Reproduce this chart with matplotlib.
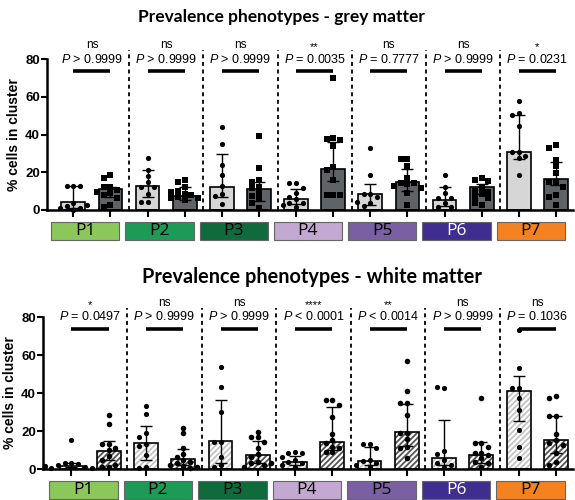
import numpy as np
import matplotlib
matplotlib.use("Agg")
import matplotlib.pyplot as plt
from matplotlib.patches import Rectangle

plt.rcParams['font.family'] = ['Liberation Sans', 'DejaVu Sans']
plt.rcParams['mathtext.fontset'] = 'custom'
plt.rcParams['mathtext.it'] = 'Liberation Sans:italic'
plt.rcParams['mathtext.rm'] = 'Liberation Sans'
plt.rcParams['hatch.linewidth'] = 1.3

# fenotyypit ja laatikoiden värit
phenotypes = ["P1", "P2", "P3", "P4", "P5", "P6", "P7"]
box_colors = ["#8bc75a", "#1d9a55", "#0f6b3c", "#c3a8d1", "#7b5fa3", "#3f2d8f", "#f58220"]
box_text_colors = ["black", "black", "black", "black", "black", "white", "black"]

# harmaa aine: mediaani, kvartiilit (ala, yla) ja pisteet
grey_light_med = [4.4, 12.9, 12.4, 5.7, 8.5, 5.1, 30.9]
grey_light_lo = [1.0, 7.0, 7.0, 3.0, 2.5, 2.0, 27.0]
grey_light_hi = [12.9, 21.2, 29.5, 11.1, 13.6, 12.4, 50.2]
grey_dark_med = [11.0, 7.4, 11.0, 21.6, 14.7, 12.4, 16.3]
grey_dark_lo = [7.0, 5.5, 4.8, 15.5, 10.0, 8.5, 13.3]
grey_dark_hi = [12.4, 12.4, 15.0, 35.9, 21.7, 13.6, 25.6]
grey_light_pts = [
    [12.9, 12.9, 12.9, 3.5, 2.3, 0.9, 0.9, 0.0, 2.6],
    [27.4, 21.2, 18.0, 15.0, 12.4, 12.4, 8.5, 4.4, 4.4],
    [43.8, 35.0, 23.9, 18.6, 12.9, 8.3, 7.4, 3.2],
    [14.1, 14.1, 11.5, 8.8, 7.1, 5.7, 3.5, 3.9, 1.8, 2.7],
    [32.7, 18.6, 8.5, 8.5, 7.1, 3.5, 2.3, 4.4],
    [18.6, 12.4, 8.8, 6.2, 6.2, 3.5, 1.8, 1.8],
    [57.8, 51.6, 50.5, 44.5, 30.9, 30.9, 28.6, 27.4, 18.6],
]
grey_dark_pts = [
    [18.6, 16.8, 12.4, 12.4, 10.6, 8.8, 8.0, 6.2, 2.7, 1.8, 9.7],
    [15.9, 15.0, 12.4, 10.2, 8.5, 8.0, 7.1, 6.2, 5.3, 6.2, 9.7],
    [39.2, 22.1, 15.9, 15.0, 12.4, 11.5, 9.2, 5.7, 0.9, 7.4, 3.5],
    [70.1, 38.0, 37.5, 37.1, 33.9, 23.0, 21.2, 15.9, 8.0, 8.0, 8.0],
    [26.9, 26.9, 23.3, 16.8, 14.1, 14.1, 13.8, 12.9, 11.5, 8.8, 2.7],
    [16.8, 15.9, 15.4, 11.5, 10.2, 9.7, 8.3, 7.1, 6.2, 2.7, 3.5],
    [34.5, 32.7, 26.5, 23.3, 19.4, 15.0, 15.0, 12.4, 8.0, 7.1, 2.7],
]
grey_stars = ["ns", "ns", "ns", "**", "ns", "ns", "*"]
grey_p = ["> 0.9999", "> 0.9999", "> 0.9999", "= 0.0035", "= 0.7777", "> 0.9999", "= 0.0231"]

# valkea aine
white_light_med = [1.8, 13.5, 14.8, 3.9, 4.2, 6.0, 40.8]
white_light_lo = [1.0, 4.7, 3.0, 2.0, 2.0, 2.0, 25.3]
white_light_hi = [3.3, 22.8, 36.4, 6.9, 11.8, 25.8, 49.0]
white_dark_med = [9.7, 5.1, 7.4, 14.4, 19.7, 7.4, 15.3]
white_dark_lo = [4.7, 2.0, 3.3, 10.0, 12.0, 3.0, 8.3]
white_dark_hi = [14.8, 10.5, 14.8, 32.5, 34.3, 14.4, 27.9]
white_light_pts = [
    [15.3, 3.3, 3.3, 2.6, 2.1, 1.2, 0.7, 0.4, 1.6],
    [32.9, 28.8, 18.8, 17.0, 13.0, 12.3, 7.4, 1.2, 0.7],
    [53.6, 43.1, 29.9, 14.4, 14.4, 6.5, 2.1, 1.2],
    [9.1, 8.3, 8.3, 6.5, 4.7, 3.9, 3.0, 2.1, 1.2],
    [13.2, 13.2, 10.9, 4.7, 4.2, 3.3, 2.1, 1.2],
    [42.5, 43.4, 9.7, 7.9, 4.7, 3.0, 2.1, 1.2],
    [72.9, 53.1, 42.5, 42.5, 37.3, 31.1, 20.6, 11.8, 5.6],
]
white_dark_pts = [
    [28.5, 23.7, 13.0, 13.0, 10.9, 10.0, 7.0, 4.7, 1.2, 1.2, 2.1],
    [21.8, 18.8, 10.9, 7.9, 6.5, 4.7, 3.9, 3.3, 2.1, 1.6, 0.7, 1.2],
    [19.7, 16.7, 16.7, 14.4, 10.9, 7.7, 6.5, 3.9, 3.0, 2.1, 1.2, 3.3],
    [36.4, 36.4, 33.7, 27.6, 18.5, 15.3, 13.5, 11.8, 9.1, 8.8, 10.9],
    [56.9, 40.8, 34.6, 34.6, 28.5, 18.8, 18.8, 15.6, 11.8, 10.9, 5.6],
    [37.3, 13.5, 13.5, 11.8, 8.6, 8.3, 7.4, 5.6, 3.9, 3.0, 1.2],
    [38.5, 37.3, 27.9, 27.9, 18.5, 15.3, 13.5, 12.7, 8.3, 3.9, 2.1],
]
white_stars = ["*", "ns", "ns", "****", "**", "ns", "ns"]
white_p = ["= 0.0497", "> 0.9999", "> 0.9999", "< 0.0001", "< 0.0014", "> 0.9999", "= 0.1036"]

OFFSET = 0.25
BAR_W = 0.32


def swarm(values, px_per_unit, step=0.09, px_per_x=74.2, min_dist=5.6):
    # yksinkertainen parvi-asettelu, ettei pisteet mene paallekkain
    placed = []
    offs = []
    cands = [0, -1, 1, -2, 2, -3, 3, -4, 4]
    for v in values:
        for c in cands:
            dx = c * step
            ok = True
            for (px, pv) in placed:
                if np.hypot((dx - px) * px_per_x, (v - pv) * px_per_unit) < min_dist:
                    ok = False
                    break
            if ok:
                break
        placed.append((dx, v))
        offs.append(dx)
    return np.array(offs)


def draw_panel(ax, l_med, l_lo, l_hi, d_med, d_lo, d_hi, light_pts, dark_pts, stars, ptxt, hatched, xleft):
    x = np.arange(len(phenotypes))
    xl = x - OFFSET
    xd = x + OFFSET
    l_med = np.array(l_med)
    d_med = np.array(d_med)
    l_err = [l_med - np.array(l_lo), np.array(l_hi) - l_med]
    d_err = [d_med - np.array(d_lo), np.array(d_hi) - d_med]
    if hatched:
        ax.bar(xl, l_med, BAR_W, color="white", edgecolor="#c4c4c4", hatch="//////", linewidth=0, zorder=1)
        ax.bar(xd, d_med, BAR_W, color="white", edgecolor="#555555", hatch="//////", linewidth=0, zorder=1)
        ax.bar(xl, l_med, BAR_W, fill=False, edgecolor="black", linewidth=1.2, zorder=2)
        ax.bar(xd, d_med, BAR_W, fill=False, edgecolor="black", linewidth=1.2, zorder=2)
    else:
        ax.bar(xl, l_med, BAR_W, color="#d6d6d6", edgecolor="black", linewidth=1.2, zorder=1)
        ax.bar(xd, d_med, BAR_W, color="#5f6366", edgecolor="black", linewidth=1.2, zorder=1)
    ax.errorbar(xl, l_med, yerr=l_err, fmt="none", ecolor="black", elinewidth=1, capsize=4.5, capthick=1, zorder=3)
    ax.errorbar(xd, d_med, yerr=d_err, fmt="none", ecolor="black", elinewidth=1, capsize=4.5, capthick=1, zorder=3)

    dark_marker = "o" if hatched else "s"
    for i in range(len(phenotypes)):
        lp = np.array(light_pts[i])
        dp = np.array(dark_pts[i])
        ax.scatter(xl[i] + swarm(lp, 1.89), lp, s=14, c="black", marker="o", zorder=4, clip_on=False, linewidths=0)
        ax.scatter(xd[i] + swarm(dp, 1.89), dp, s=16 if hatched else 18, c="black", marker=dark_marker, zorder=4, clip_on=False, linewidths=0)
        # merkitsevyys
        ax.plot([xl[i], xd[i]], [73.6, 73.6], color="black", linewidth=2.6, solid_capstyle="butt", clip_on=False, zorder=5)
        ax.text(x[i], 80, r"$\mathit{P}$ " + ptxt[i], ha="center", va="center", fontsize=9, clip_on=False)
        if stars[i] == "ns":
            ax.text(x[i], 87.6, "ns", ha="center", va="center", fontsize=8.5, clip_on=False)
        else:
            ax.text(x[i], 86.4, stars[i], ha="center", va="center", fontsize=8, clip_on=False)
        # laatikko fenotyypille
        bx = x[i] - 0.09
        ax.add_patch(Rectangle((bx - 0.46, -0.2), 0.92, 0.12, transform=ax.get_xaxis_transform(),
                               facecolor=box_colors[i], edgecolor="#666666", linewidth=0.8, clip_on=False))
        ax.text(bx, -0.14, phenotypes[i], transform=ax.get_xaxis_transform(), ha="center", va="center",
                fontsize=12.5, family=["Open Sans", "DejaVu Sans"], color=box_text_colors[i])
    for s in range(1, len(phenotypes)):
        ax.plot([s - 0.5, s - 0.5], [0, 85], color="black", linestyle=(0, (2.2, 2.0)), linewidth=1.3, clip_on=False)

    ax.set_xlim(xleft, 6.48)
    ax.set_ylim(0, 80)
    ax.set_yticks([0, 20, 40, 60, 80])
    ax.set_xticks(np.concatenate([xl, xd]))
    ax.set_xticklabels([])
    ax.tick_params(axis="x", length=5, width=1.5, direction="out")
    ax.tick_params(axis="y", length=4, width=1.5, direction="out", labelsize=9.5, pad=1)
    for lab in ax.get_yticklabels():
        lab.set_fontweight("bold")
    ax.spines["top"].set_visible(False)
    ax.spines["right"].set_visible(False)
    ax.spines["left"].set_linewidth(1.8)
    ax.spines["bottom"].set_linewidth(1.8)
    ax.set_ylabel("% cells in cluster", fontsize=10, fontweight="bold", labelpad=3)


fig = plt.figure(figsize=(5.75, 5), dpi=100)
ax1 = fig.add_axes([47 / 575, 0.58, 526 / 575, 0.302])
ax2 = fig.add_axes([43 / 575, 0.062, 530 / 575, 0.304])

draw_panel(ax1, grey_light_med, grey_light_lo, grey_light_hi, grey_dark_med, grey_dark_lo, grey_dark_hi,
           grey_light_pts, grey_dark_pts, grey_stars, grey_p, False, -0.605)
draw_panel(ax2, white_light_med, white_light_lo, white_light_hi, white_dark_med, white_dark_lo, white_dark_hi,
           white_light_pts, white_dark_pts, white_stars, white_p, True, -0.632)

fig.text(281 / 575, 1 - 17 / 500, "Prevalence phenotypes - grey matter", ha="center", va="center",
         fontsize=12.5, fontweight="bold", family=["Lato", "DejaVu Sans"])
fig.text(312 / 575, 1 - 277 / 500, "Prevalence phenotypes - white matter", ha="center", va="center",
         fontsize=14.3, fontweight="bold", family=["Lato", "DejaVu Sans"])

fig.savefig("out.png", dpi=100)
